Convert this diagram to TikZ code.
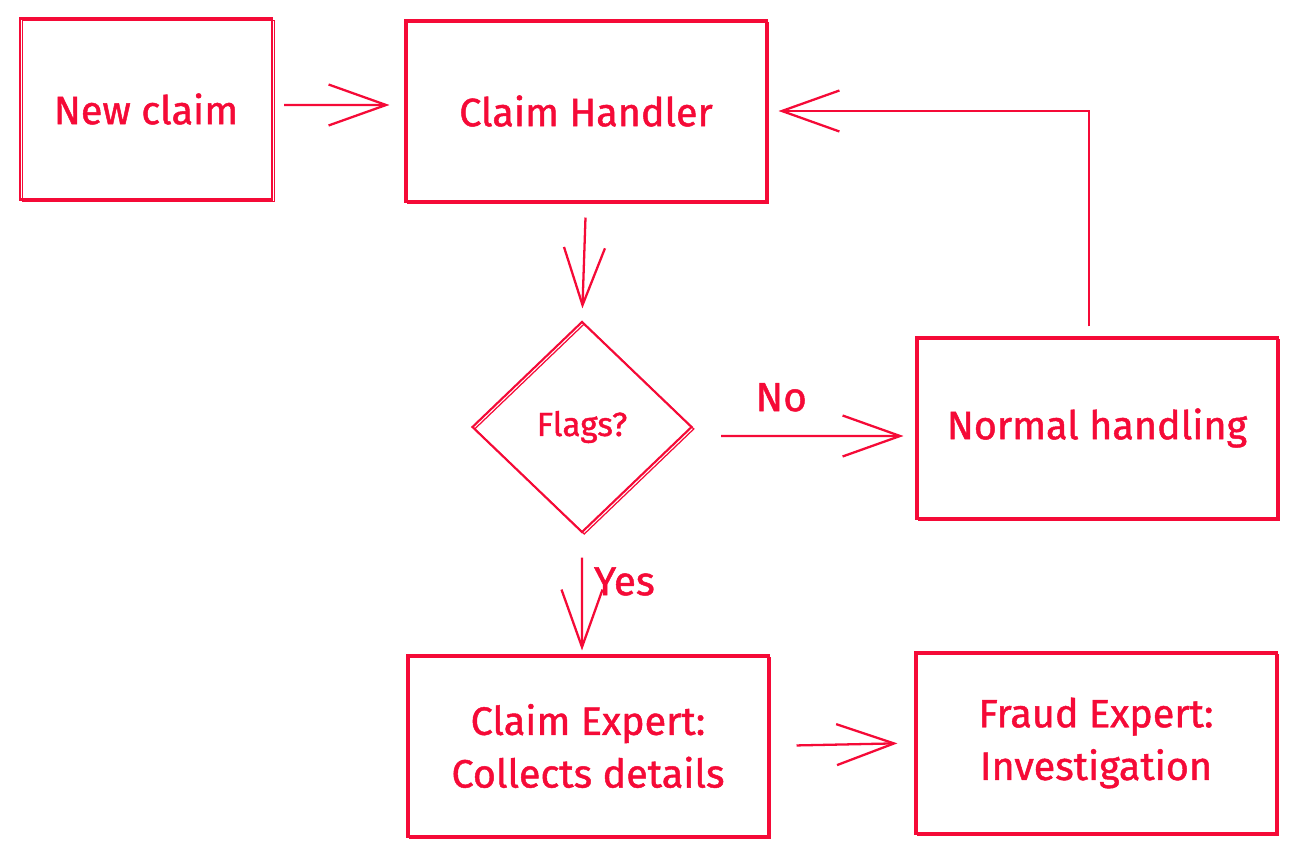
\documentclass[tikz,border=0pt]{standalone}
\usepackage{fontspec}
\setmainfont{Fira Sans}
\newfontfamily\handfont{Fira Sans}[FakeBold=1.2]
\usetikzlibrary{positioning, calc, arrows.meta, shapes.geometric}

\definecolor{claimred}{RGB}{245,10,55}

\begin{document}
\begin{tikzpicture}[
            x=0.02cm, y=-0.02cm,
            sketch/.style = {draw=claimred, line width=1.2pt,
                    postaction={draw=claimred, line width=0.7pt, transform canvas={shift={(1.3pt,-1.1pt)}}}},
            stepbox/.style = {sketch, rectangle, align=center, text=claimred,
                    font=\handfont\fontsize{22.5}{30}\selectfont, minimum width=7.22cm, minimum height=3.62cm},
            choice/.style = {sketch, diamond, text=claimred, font=\handfont\fontsize{19}{22}\selectfont,
                    minimum width=4.4cm, minimum height=4.22cm, inner sep=0pt},
            flow/.style = {draw=claimred, line width=1.3pt, -{Straight Barb[length=1.15cm, width=0.82cm, line width=1.3pt]}},
            tag/.style = {text=claimred, font=\handfont\fontsize{23}{26}\selectfont}
        ]
        \useasboundingbox (0,0) rectangle (1296,858);

        \node (claim)   [stepbox, minimum width=5.04cm] at (146,109) {New claim};
        \node (handler) [stepbox] at (586,111) {Claim Handler};
        \node (flags)   [choice]  at (582,427) {Flags?};
        \node (normal)  [stepbox] at (1097,428) {Normal handling};
        \node (expert)  [stepbox] at (588,746) {Claim Expert:\\ Collects details};
        \node (fraud)   [stepbox] at (1096,743) {Fraud Expert:\\ Investigation};

        \draw[flow, shorten <=0.22cm, shorten >=0.3cm] ([yshift=0.08cm]claim.east) -- ([yshift=0.12cm]handler.west);
        \draw[flow, shorten <=0.3cm, shorten >=0.24cm] (handler.south) -- (flags.north);
        \draw[flow, shorten <=0.56cm, shorten >=0.24cm] ([yshift=-0.18cm]flags.east) -- node[tag, above=0.35cm, xshift=-0.46cm] (no) {No} ([yshift=-0.16cm]normal.west);
        \draw[flow, shorten <=0.48cm, shorten >=0.08cm] (flags.south) -- node[tag, right=0.1cm, yshift=0.25cm] (yes) {Yes} ([xshift=-0.12cm]expert.north);
        \draw[flow, shorten <=0.54cm, shorten >=0.34cm] (expert.east) -- (fraud.west);
        \draw[flow] ([xshift=-0.16cm, yshift=0.2cm]normal.north) |- ([xshift=0.22cm]handler.east);
    \end{tikzpicture}
\end{document}
